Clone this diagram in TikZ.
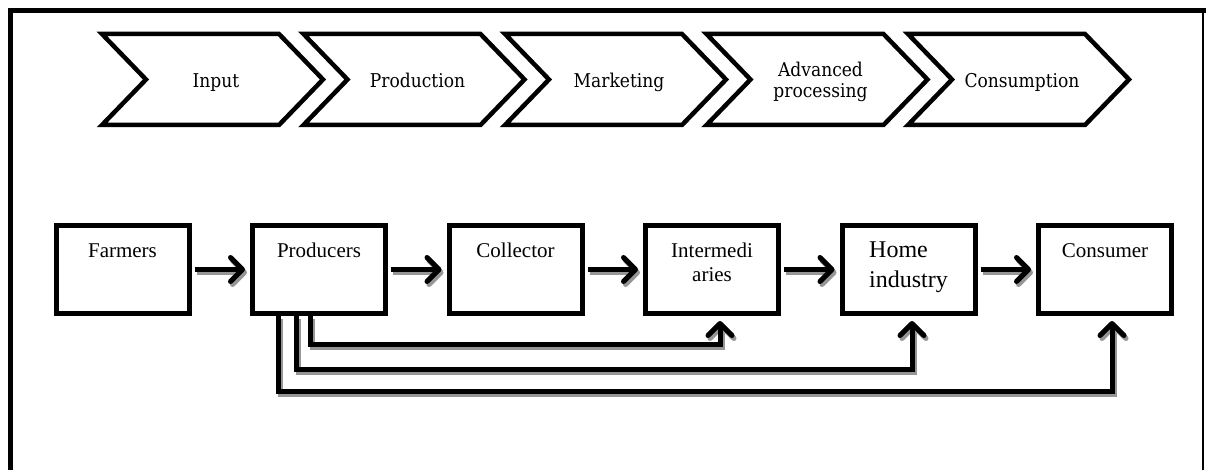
\documentclass[tikz,border=0pt]{standalone}
\usepackage{fontspec}
\setmainfont{Liberation Serif}
\newfontfamily\stagefont{DejaVu Serif Condensed}
\definecolor{shadowgray}{RGB}{150,150,150}
\usetikzlibrary{arrows.meta,positioning}

\tikzset{
  actor/.style={draw, line width=5pt, minimum width=133pt, inner xsep=0pt, inner ysep=0pt,
    text height=31.5pt, text depth=56.5pt, align=center, font=\fontsize{21}{24}\selectfont},
  tip/.style={-{Straight Barb[length=12pt,width=24pt,round]}},
  flow/.style={line width=5pt, tip, shorten >=5pt,
    preaction={draw=shadowgray, line width=5pt, tip, transform canvas={xshift=2pt, yshift=-3pt}}},
  stagelabel/.style={align=center, inner sep=0pt, anchor=base, font=\stagefont\fontsize{19}{21}\selectfont}
}

\begin{document}
\begin{tikzpicture}[x=1pt, y=-1pt, node distance=58.5pt]
  \useasboundingbox (0,0) rectangle (1206,470);
  % frame
  \draw[line width=5pt] (10,470) -- (10,11) -- (1206,11);
  \draw[line width=2pt] (1203,11) -- (1203,470);
  % stages
  \foreach \name/\txt/\base [count=\i from 0] in {input/Input/88, prodn/Production/88,
      mark/Marketing/88, adv/{Advanced\\processing}/98, consump/Consumption/88} {
    \pgfmathsetmacro\s{102+201.5*\i}
    \draw[line width=4.5pt, miter limit=20] (\s,34) -- ({\s+177},34) -- ({\s+221},79.5)
      -- ({\s+177},125) -- (\s,125) -- ({\s+44},79.5) -- cycle;
    \node[stagelabel] (stage-\name) at ({\s+114},\base) {\txt};
  }
  % chain
  \node[actor] (farm) at (122.5,269.5) {Farmers};
  \node[actor, right=of farm] (prod) {Producers};
  \node[actor, right=of prod] (coll) {Collector};
  \node[actor, right=of coll, text height=55.5pt, text depth=32.5pt] (inter) {Intermedi\\aries};
  \node[actor, right=of inter, align=left, text height=61.5pt, text depth=26.5pt,
    font=\fontsize{24}{29}\selectfont] (home) {Home\\industry};
  \node[actor, right=of home] (consumer) {Consumer};
  \draw[flow, shorten <=3pt] (farm) -- (prod);
  \draw[flow, shorten <=3pt] (prod) -- (coll);
  \draw[flow, shorten <=3pt] (coll) -- (inter);
  \draw[flow, shorten <=3pt] (inter) -- (home);
  \draw[flow, shorten <=3pt] (home) -- (consumer);
  % direct routes from producers
  \draw[flow] ([xshift=-9pt]prod.south) -- ++(0,28.5) -| ([xshift=8pt]inter.south);
  \draw[flow] ([xshift=-23pt]prod.south) -- ++(0,53.5) -| ([xshift=3.5pt]home.south);
  \draw[flow] ([xshift=-41pt]prod.south) -- ++(0,75.5) -| ([xshift=7pt]consumer.south);
\end{tikzpicture}
\end{document}
